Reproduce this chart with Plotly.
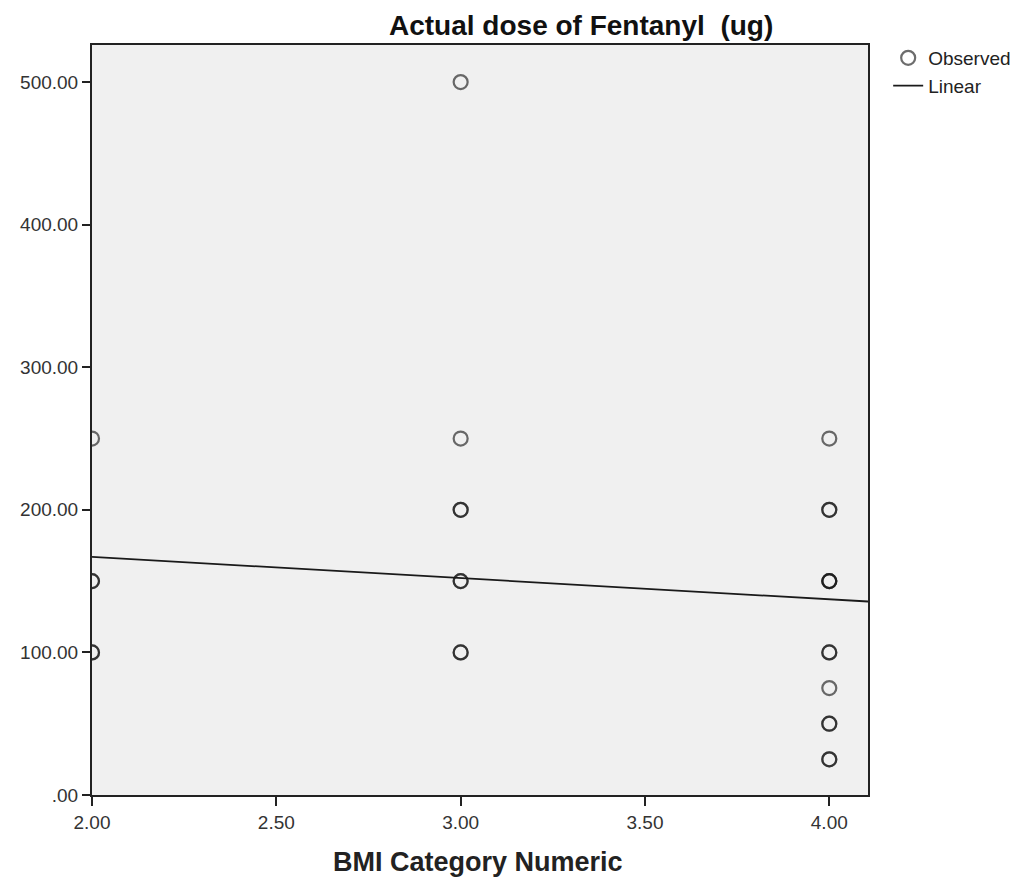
import plotly.graph_objects as go

# Observed data (BMI category vs fentanyl dose); duplicates model overlapping points
bmi_category = [2, 2, 2, 2, 2,
                3, 3, 3, 3, 3, 3, 3, 3,
                4, 4, 4, 4, 4, 4, 4, 4, 4, 4, 4, 4, 4]
fentanyl_dose = [250, 150, 150, 100, 100,
                 500, 250, 200, 200, 150, 150, 100, 100,
                 250, 200, 200, 150, 150, 150, 100, 100, 75, 50, 50, 25, 25]

# Linear fit line
linear_x = [2.0, 4.105]
linear_y = [167.0, 135.7]

x_tickvals = [2.0, 2.5, 3.0, 3.5, 4.0]
x_ticktext = ["2.00", "2.50", "3.00", "3.50", "4.00"]
y_tickvals = [0, 100, 200, 300, 400, 500]
y_ticktext = [".00", "100.00", "200.00", "300.00", "400.00", "500.00"]

font_family = "Liberation Sans, Arial, sans-serif"

fig = go.Figure()
fig.add_trace(go.Scatter(
    x=bmi_category, y=fentanyl_dose, mode="markers", name="Observed",
    marker=dict(symbol="circle-open", size=14, color="rgba(20,20,20,0.62)",
                line=dict(width=2.2, color="rgba(20,20,20,0.62)")),
    cliponaxis=True,
))
fig.add_trace(go.Scatter(
    x=linear_x, y=linear_y, mode="lines", name="Linear",
    line=dict(color="#1a1a1a", width=1.8),
))

fig.update_layout(
    width=1029, height=888,
    margin=dict(l=81, r=169, t=37, b=101),
    paper_bgcolor="white",
    plot_bgcolor="#F0F0F0",
    font=dict(family=font_family, size=18, color="#222222"),
    showlegend=True,
    legend=dict(x=1.026, y=1.008, xanchor="left", yanchor="top",
                bgcolor="rgba(0,0,0,0)", font=dict(size=19, color="#222222"),
                tracegroupgap=0, itemwidth=30),
    annotations=[
        dict(text="<b>Actual dose of Fentanyl  (ug)</b>", xref="paper", yref="paper",
             x=0.630, y=1.0, yanchor="middle", xanchor="center", showarrow=False,
             yshift=20, borderpad=0,
             font=dict(size=28, color="#111111", family=font_family)),
        dict(text="<b>BMI Category Numeric</b>", xref="paper", yref="paper",
             x=0.497, y=0.0, yanchor="middle", xanchor="center", showarrow=False,
             yshift=-67, font=dict(size=27, color="#222222", family=font_family)),
    ],
)
fig.update_xaxes(
    range=[2.0, 4.105], tickvals=x_tickvals, ticktext=x_ticktext,
    showgrid=False, zeroline=False,
    showline=True, linecolor="#222222", linewidth=2, mirror=True,
    ticks="outside", ticklen=9, tickwidth=2, tickcolor="#222222",
    tickfont=dict(size=19, color="#333333"),
)
fig.update_yaxes(
    range=[0, 526], tickvals=y_tickvals, ticktext=y_ticktext,
    showgrid=False, zeroline=False,
    showline=True, linecolor="#222222", linewidth=2, mirror=True,
    ticks="outside", ticklen=8, tickwidth=2, tickcolor="#222222",
    tickfont=dict(size=19, color="#333333"),
)

fig.write_html("out.html")
